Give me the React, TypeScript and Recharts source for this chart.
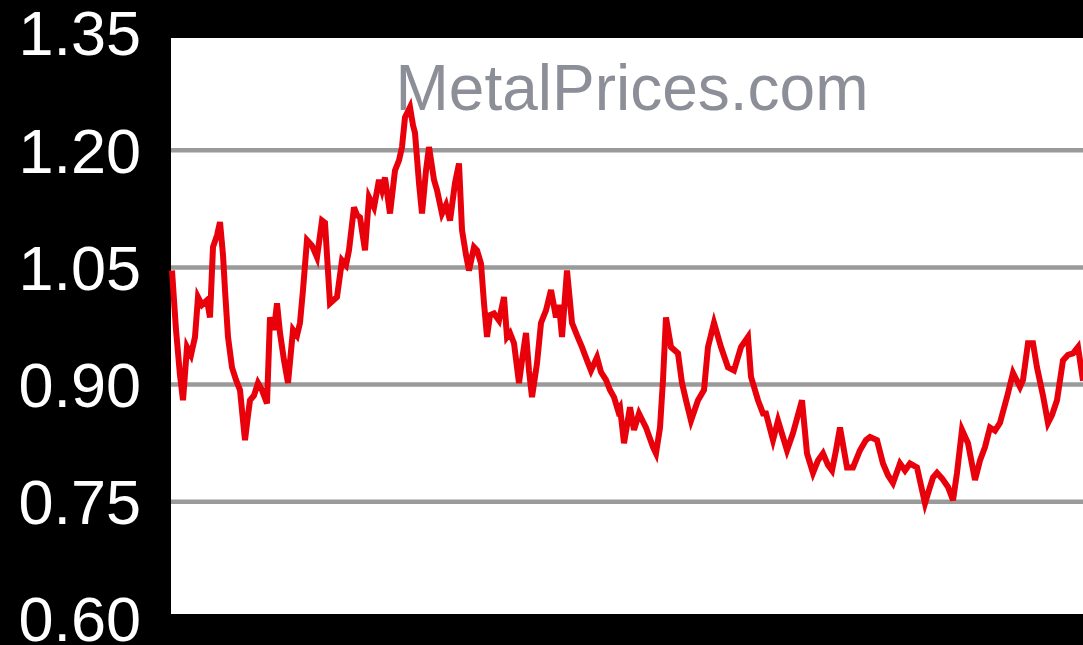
import React from "react";
import { LineChart, Line, XAxis, YAxis, ReferenceLine, ReferenceArea } from "recharts";

const days: number[] = [
  1, 5, 9, 12, 16, 20, 24, 27, 31, 36, 39, 42, 46, 49, 52, 54, 57, 61, 65, 69, 72, 74, 77, 79, 83, 87, 91, 96, 99, 103,
  106, 109, 113, 117, 122, 126, 129, 132, 136, 141, 146, 149, 151, 154, 159, 166, 171, 175, 178, 183, 186, 189, 194, 198, 203, 208, 211, 214, 219, 224,
  228, 231, 234, 239, 242, 244, 248, 251, 255, 258, 263, 266, 271, 275, 279, 284, 288, 291, 295, 298, 303, 306, 310, 313, 316, 319, 323, 328, 333, 336,
  339, 343, 348, 351, 355, 358, 361, 366, 370, 375, 380, 385, 388, 391, 396, 401, 406, 411, 416, 420, 426, 430, 435, 439, 443, 447, 449, 453, 459, 463,
  468, 475, 482, 485, 489, 492, 495, 500, 507, 511, 515, 520, 527, 533, 537, 543, 550, 557, 563, 570, 577, 580, 587, 592, 595, 602, 607, 616, 622, 631,
  636, 642, 647, 652, 657, 661, 665, 669, 676, 682, 689, 695, 699, 706, 712, 717, 722, 729, 734, 739, 746, 750, 754, 758, 762, 766, 771, 777, 782, 786,
  791, 797, 804, 809, 814, 819, 824, 829, 836, 842, 849, 852, 857, 862, 866, 872, 877, 881, 886, 892, 897, 902, 907, 912
];

const prices: number[] = [
  1.046, 0.970, 0.912, 0.880, 0.948, 0.938, 0.961, 1.012, 1.002, 1.008, 0.986, 1.076, 1.091, 1.108, 1.066, 1.021, 0.961, 0.922, 0.906, 0.893,
  0.854, 0.829, 0.861, 0.880, 0.886, 0.902, 0.893, 0.876, 0.986, 0.970, 1.004, 0.966, 0.931, 0.902, 0.970, 0.963, 0.979, 1.021, 1.085, 1.078,
  1.063, 1.091, 1.110, 1.107, 1.004, 1.012, 1.059, 1.053, 1.072, 1.127, 1.117, 1.114, 1.072, 1.140, 1.127, 1.162, 1.149, 1.165, 1.119, 1.174,
  1.187, 1.204, 1.242, 1.255, 1.232, 1.222, 1.158, 1.119, 1.174, 1.204, 1.162, 1.149, 1.119, 1.130, 1.110, 1.158, 1.183, 1.098, 1.066, 1.046,
  1.076, 1.072, 1.055, 1.004, 0.961, 0.989, 0.991, 0.982, 1.012, 0.961, 0.966, 0.953, 0.902, 0.931, 0.966, 0.918, 0.884, 0.927, 0.979, 0.995,
  1.021, 0.986, 1.002, 0.961, 1.046, 0.979, 0.963, 0.948, 0.931, 0.918, 0.935, 0.916, 0.906, 0.893, 0.884, 0.867, 0.871, 0.825, 0.871, 0.842,
  0.863, 0.845, 0.820, 0.812, 0.845, 0.906, 0.986, 0.948, 0.940, 0.902, 0.880, 0.854, 0.880, 0.893, 0.948, 0.979, 0.948, 0.922, 0.918, 0.948,
  0.961, 0.910, 0.880, 0.863, 0.863, 0.829, 0.854, 0.816, 0.838, 0.880, 0.812, 0.787, 0.803, 0.812, 0.797, 0.790, 0.816, 0.845, 0.794, 0.794,
  0.816, 0.829, 0.833, 0.829, 0.799, 0.784, 0.774, 0.799, 0.790, 0.799, 0.794, 0.771, 0.748, 0.765, 0.781, 0.787, 0.780, 0.769, 0.752, 0.787,
  0.842, 0.825, 0.778, 0.803, 0.820, 0.845, 0.841, 0.851, 0.884, 0.915, 0.897, 0.906, 0.953, 0.953, 0.922, 0.886, 0.851, 0.861, 0.880, 0.931,
  0.938, 0.940, 0.948, 0.905
];

const yTicks: number[] = [0.6, 0.75, 0.9, 1.05, 1.2, 1.35];
const gridValues: number[] = [0.75, 0.9, 1.05, 1.2];
const watermark = "MetalPrices.com";

const data = days.map((d, i) => ({ day: d, price: prices[i] }));

export default function App() {
  return (
    <div style={{ position: "fixed", left: 0, top: 0, width: 1083, height: 645, background: "#000" }}>
      <LineChart
        width={1083}
        height={645}
        data={data}
        margin={{ top: 33, right: 0, bottom: 26, left: 0 }}
        style={{ background: "#000" }}
      >
        <XAxis dataKey="day" type="number" domain={[0, 912]} hide />
        <YAxis
          type="number"
          domain={[0.6, 1.35]}
          ticks={yTicks}
          width={171}
          axisLine={false}
          tickLine={false}
          tickSize={0}
          tickMargin={30}
          interval={0}
          tickFormatter={(v: number) => v.toFixed(2)}
          tick={{ fill: "#ffffff", fontSize: 63, fontFamily: "'Liberation Sans', Arial, sans-serif" }}
          allowDataOverflow
        />
        <ReferenceArea y1={0.6064} y2={1.3436} fill="#ffffff" fillOpacity={1} stroke="none" ifOverflow="visible" />
        {gridValues.map((g) => (
          <ReferenceLine key={g} y={g} stroke="#9a9a9a" strokeWidth={4.5} />
        ))}
        <Line
          type="linear"
          dataKey="price"
          stroke="#e8000b"
          strokeWidth={6}
          dot={false}
          isAnimationActive={false}
        />
      </LineChart>
      <svg
        width={1083}
        height={645}
        style={{ position: "absolute", left: 0, top: 0, pointerEvents: "none" }}
      >
        <text
          x={632}
          y={110}
          textAnchor="middle"
          fontFamily="'Liberation Sans', Arial, sans-serif"
          fontSize={64}
          fill="#8d8f98"
        >
          {watermark}
        </text>
      </svg>
    </div>
  );
}
